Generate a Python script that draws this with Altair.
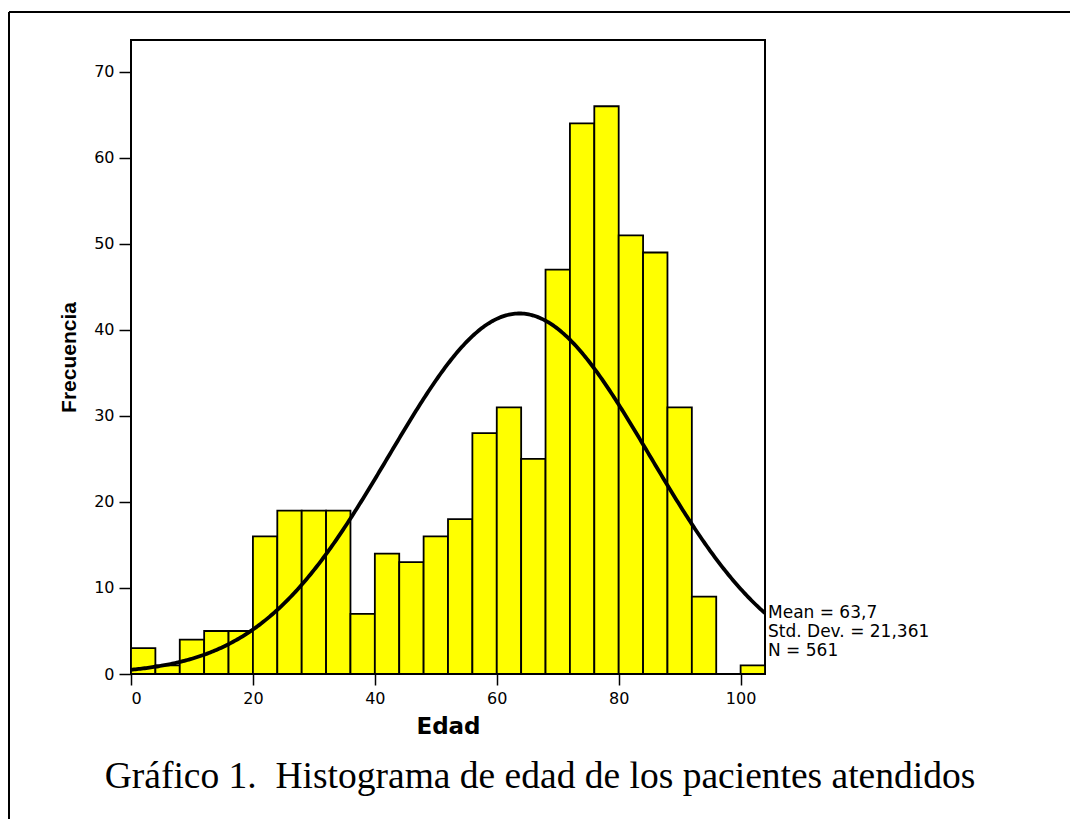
import altair as alt
import pandas as pd

# Histogram bins (width 4) and counts
bin_start = [0, 4, 8, 12, 16, 20, 24, 28, 32, 36, 40, 44, 48, 52, 56, 60, 64, 68, 72, 76, 80, 84, 88, 92, 96, 100]
counts = [3, 1, 4, 5, 5, 16, 19, 19, 19, 7, 14, 13, 16, 18, 28, 31, 25, 47, 64, 66, 51, 49, 31, 9, 0, 1]
bin_width = 4

# Summary statistics shown on the chart
mean_val = 63.7
sd_val = 21.361
n_val = 561
stats_lines = ["Mean = 63,7", "Std. Dev. = 21,361", "N = 561"]

y_ticks = [0, 10, 20, 30, 40, 50, 60, 70]
x_ticks = [0, 20, 40, 60, 80, 100]
caption = "Gráfico 1.\u00a0 Histograma de edad de los pacientes atendidos"

W, H = 634, 634
PAD_L, PAD_T = 123, 32
TOTAL_W, TOTAL_H = 1062, 811

bars_df = pd.DataFrame({
    "start": bin_start,
    "end": [b + bin_width for b in bin_start],
    "count": counts,
    "zero": [0] * len(bin_start),
})

xscale = alt.Scale(domain=[0, 104], nice=False, zero=False)
yscale = alt.Scale(domain=[0, 73.7], nice=False)

bars = alt.Chart(bars_df).mark_bar(
    color="#FFFF00", stroke="black", strokeWidth=1.8, opacity=1
).encode(
    x=alt.X("start:Q", scale=xscale,
            axis=alt.Axis(title="Edad", values=x_ticks, format="d", grid=False,
                          domain=False, tickSize=11, tickWidth=1.5, tickColor="black",
                          labelFontSize=16, labelFont="DejaVu Sans", labelColor="black",
                          labelPadding=5, titleFont="DejaVu Sans", titleFontSize=23,
                          titleFontWeight="bold", titleColor="black", titlePadding=9)),
    x2="end:Q",
    y=alt.Y("count:Q", scale=yscale,
            axis=alt.Axis(title="Frecuencia", values=y_ticks, format="d", grid=False,
                          domain=False, tickSize=12, tickWidth=1.5, tickColor="black",
                          labelFontSize=16, labelFont="DejaVu Sans", labelColor="black",
                          labelPadding=5, titleFont="Liberation Sans", titleFontSize=21,
                          titleFontWeight="bold", titleColor="black", titlePadding=14)),
    y2="zero:Q",
)

curve = alt.Chart(alt.sequence(0, 104.25, 0.25, as_="x")).transform_calculate(
    y=f"{n_val}*{bin_width}/({sd_val}*sqrt(2*PI))*exp(-0.5*pow((datum.x-{mean_val})/{sd_val},2))"
).mark_line(color="black", strokeWidth=3.8).encode(
    x=alt.X("x:Q", scale=xscale),
    y=alt.Y("y:Q", scale=yscale),
)

stats_df = pd.DataFrame({"t": stats_lines, "i": [0, 1, 2]})
stats = alt.Chart(stats_df).transform_calculate(
    py="573 + datum.i*19"
).mark_text(
    align="left", baseline="middle", fontSize=17, font="DejaVu Sans", color="black"
).encode(
    text="t:N",
    x=alt.value(W + 3),
    y=alt.Y("py:Q", scale=None),
)

cap = alt.Chart(pd.DataFrame({"t": [caption]})).mark_text(
    align="center", baseline="alphabetic", fontSize=37.5, font="Liberation Serif", color="black"
).encode(
    text="t:N",
    x=alt.value(540 - 8 - PAD_L),
    y=alt.value(788 - 8 - PAD_T),
)

frame_top = alt.Chart(pd.DataFrame({"a": [0]})).mark_rule(color="black", strokeWidth=2).encode(
    x=alt.value(-PAD_L + 1), x2=alt.value(TOTAL_W - PAD_L), y=alt.value(12 - 8 - PAD_T)
)
frame_left = alt.Chart(pd.DataFrame({"a": [0]})).mark_rule(color="black", strokeWidth=2).encode(
    x=alt.value(-PAD_L + 1), y=alt.value(12 - 8 - PAD_T), y2=alt.value(TOTAL_H - PAD_T)
)

chart = alt.layer(bars, curve, stats, cap, frame_top, frame_left).properties(
    width=W, height=H,
    autosize=alt.AutoSizeParams(type="none"),
    padding={"left": PAD_L, "top": PAD_T, "right": TOTAL_W - PAD_L - W, "bottom": TOTAL_H - PAD_T - H},
    background="white",
).configure_view(stroke="black", strokeWidth=2)

chart.save("out.html", embed_options={"renderer": "svg", "actions": False})
